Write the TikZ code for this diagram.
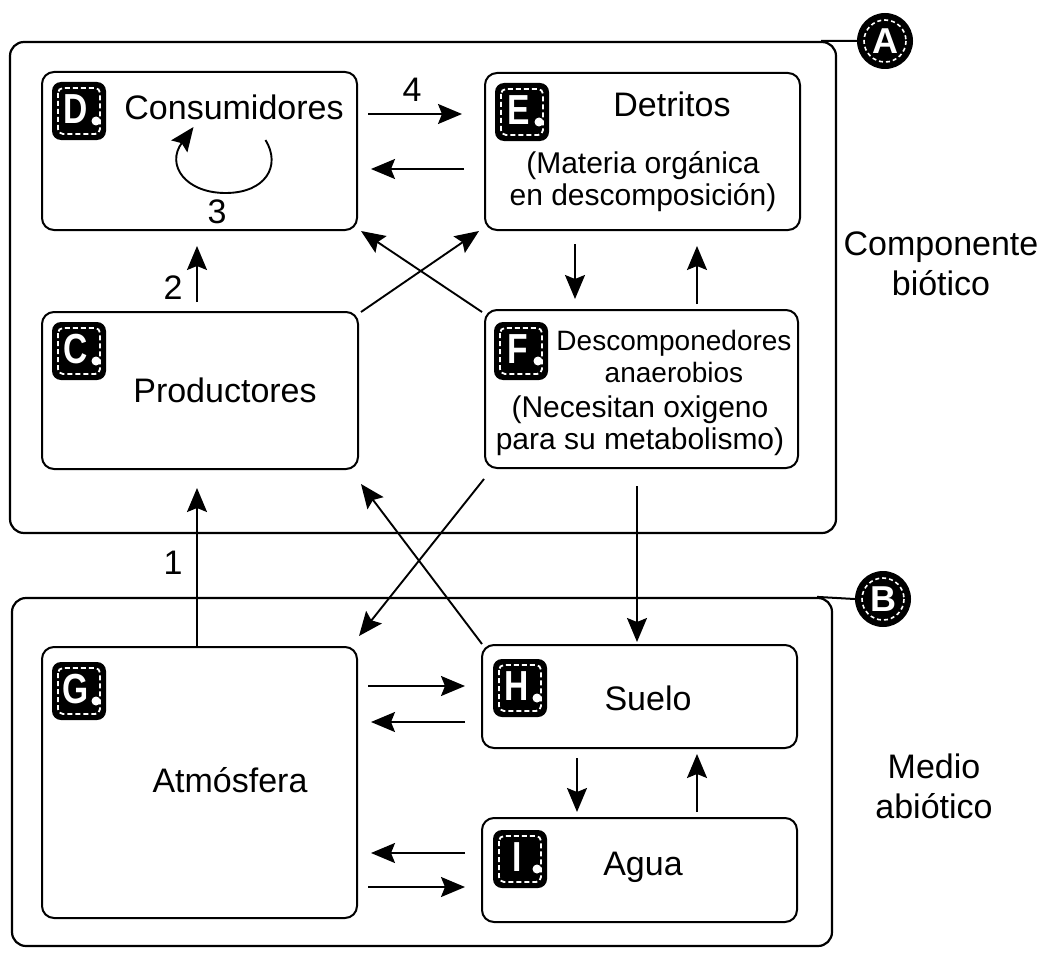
\documentclass[tikz,border=0pt]{standalone}
\usepackage{fontspec}
\usepackage{graphicx}
\setmainfont{Liberation Sans}
\usetikzlibrary{arrows.meta,calc}
\begin{document}
\begin{tikzpicture}[x=1pt,y=-1pt,
  box/.style={draw, line width=2pt, rounded corners=12pt, inner sep=0pt},
  outer/.style={draw, line width=2.2pt, rounded corners=14pt, inner sep=0pt},
  arr/.style={line width=1.9pt, -{Stealth[length=24pt,width=20pt,inset=4pt]}},
  lbl/.style={font=\fontsize{34}{40}\selectfont, inner sep=0pt, align=center},
  sml/.style={font=\fontsize{30}{32}\selectfont, inner sep=0pt, align=center},
  tiny/.style={font=\fontsize{28}{32}\selectfont, inner sep=0pt, align=center},
  circlab/.style={circle, fill=black, minimum size=56pt, inner sep=0pt, text=white, font=\bfseries\fontsize{36}{36}\selectfont},
  pics/badge/.style={code={
    \fill[black, rounded corners=9pt] (-27,-29) rectangle (27,29);
    \draw[white, line width=1.8pt, dash pattern=on 5pt off 3pt, rounded corners=5pt] (-21,-23) rectangle (21,23);
    \node[text=white, inner sep=0pt, font=\bfseries\fontsize{42}{42}\selectfont] (-l) at (-3,-2) {\scalebox{0.8}[1]{#1}};
    \fill[white] (17,10) circle (4.5);
  }}
]
\useasboundingbox (0,0) rectangle (1046,955);

% outer groups
\node[outer, minimum width=826pt, minimum height=491pt] (A) at (423,287.5) {};
\node[outer, minimum width=820pt, minimum height=348pt] (B) at (422,772) {};
\node[circlab] (cA) at (885,41) {A};
\draw[white, line width=1.6pt, dash pattern=on 4pt off 3pt] (cA.center) circle (21);
\node[circlab] (cB) at (883,599) {B};
\draw[white, line width=1.6pt, dash pattern=on 4pt off 3pt] (cB.center) circle (21);
\draw[line width=2pt] ($(A.north east)+(-16,0)$) -- (cA.west);
\draw[line width=2pt] ($(B.north east)+(-16,0)$) -- (cB.west);

% inner boxes
\node[box, minimum width=315pt, minimum height=158pt] (D) at (199.5,151) {};
\node[box, minimum width=315pt, minimum height=157pt] (E) at (642.5,151.5) {};
\node[box, minimum width=316pt, minimum height=157pt] (C) at (200,390.5) {};
\node[box, minimum width=313pt, minimum height=158pt] (F) at (641.5,389) {};
\node[box, minimum width=315pt, minimum height=271pt] (G) at (199.5,782.5) {};
\node[box, minimum width=315pt, minimum height=103pt] (H) at (639.5,696.5) {};
\node[box, minimum width=315pt, minimum height=104pt] (I) at (639.5,870) {};

% badges
\pic (bD) at ($(D.north west)+(38,40)$) {badge=D};
\pic (bE) at ($(E.north west)+(38,40)$) {badge=E};
\pic (bC) at ($(C.north west)+(38,40)$) {badge=C};
\pic (bF) at ($(F.north west)+(37,42)$) {badge=F};
\pic (bG) at ($(G.north west)+(38,45)$) {badge=G};
\pic (bH) at ($(H.north west)+(39,44)$) {badge=H};
\pic (bI) at ($(I.north west)+(39,42)$) {badge=I};

% texts
\node[lbl] (tD) at (234,107) {Consumidores};
\node[lbl] (tE) at (672,104) {Detritos};
\node[sml] (tE2) at (643,182) {(Materia orgánica\\en descomposición)};
\node[lbl] (tC) at (225,390) {Productores};
\node[tiny] (tF) at (674,356) {Descomponedores\\anaerobios};
\node[sml] (tF2) at (640,426) {(Necesitan oxigeno\\para su metabolismo)};
\node[lbl] (tG) at (230,780) {Atmósfera};
\node[lbl] (tH) at (648,698) {Suelo};
\node[lbl] (tI) at (643,867) {Agua};
\node[lbl] (tA) at (941,264) {Componente\\biótico};
\node[lbl] (tB) at (934,786) {Medio\\abiótico};

% number labels
\node[lbl] (n4) at (412,90) {4};
\node[lbl] (n3) at (217,212) {3};
\node[lbl] (n2) at (173,288) {2};
\node[lbl] (n1) at (173,563) {1};

% self loop on D
\coordinate (l1) at ($(D.center)+(66,-11)$);
\coordinate (l2) at ($(D.center)+(-6,-24)$);
\draw[arr] (l1) .. controls ($(D.center)+(82,15)$) and ($(D.center)+(66,42)$) .. ($(D.center)+(26,42)$)
  .. controls ($(D.center)+(-14,42)$) and ($(D.center)+(-34,14)$) .. (l2);

% arrows in biotic part
\draw[arr] ($(D.east)+(10,-37)$) -- ($(E.west)+(-22,-37.5)$);
\draw[arr] ($(E.west)+(-20,17.5)$) -- ($(D.east)+(13,18)$);
\draw[arr] ($(C.north)+(-3,-9)$) -- ($(D.south)+(-2.5,15)$);
\draw[arr] ($(C.north east)+(2,1)$) -- ($(E.south west)+(-5,0)$);
\draw[arr] ($(F.north west)+(-2,3)$) -- ($(D.south east)+(3,0)$);
\draw[arr] ($(E.south)+(-67.5,13)$) -- ($(F.north)+(-66.5,-10)$);
\draw[arr] ($(F.north)+(55.5,-5)$) -- ($(E.south)+(54.5,15)$);

% arrows between parts
\draw[arr] ($(G.north)+(-2.5,0)$) -- ($(C.south)+(-3,18)$);
\draw[arr] ($(H.north west)+(1,0)$) -- ($(C.south east)+(2,14)$);
\draw[arr] ($(F.south west)+(0,10)$) -- ($(G.north east)+(1,-10)$);
\draw[arr] ($(F.south)+(-4.5,17)$) -- ($(H.north)+(-2.5,-2)$);

% arrows in abiotic part
\draw[arr] ($(G.east)+(10,-96.5)$) -- ($(H.west)+(-16,-10.5)$);
\draw[arr] ($(H.west)+(-16,25.5)$) -- ($(G.east)+(13,-60.5)$);
\draw[arr] ($(H.south)+(-62.5,9)$) -- ($(I.north)+(-62.5,-5)$);
\draw[arr] ($(I.north)+(57.5,-5)$) -- ($(H.south)+(57.5,5)$);
\draw[arr] ($(I.west)+(-16,-17)$) -- ($(G.east)+(13,70.5)$);
\draw[arr] ($(G.east)+(10,104.5)$) -- ($(I.west)+(-16,17)$);
\end{tikzpicture}
\end{document}
